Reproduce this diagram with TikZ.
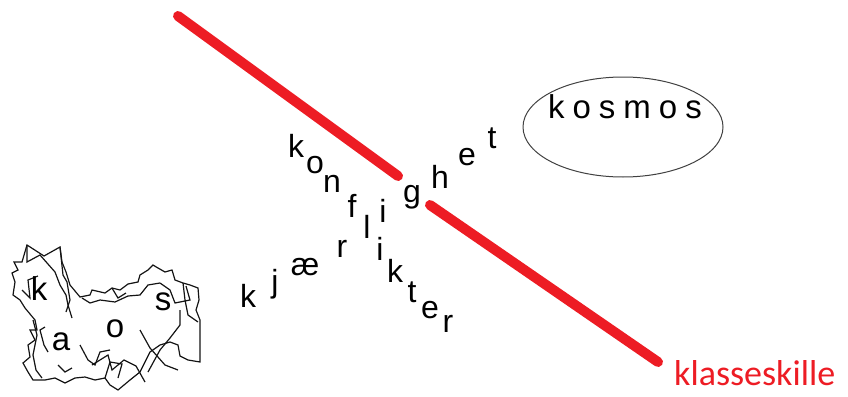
\documentclass[tikz,border=0pt]{standalone}
\usepackage{fontspec}
\setmainfont{Liberation Sans}
\newfontfamily\calfont{Carlito}
\definecolor{paintred}{RGB}{237,28,36}
\definecolor{scrib}{RGB}{20,20,20}
\begin{document}
\begin{tikzpicture}[x=1pt,y=-1pt,
  letter/.style={inner sep=0pt,anchor=base,font=\fontsize{32}{32}\selectfont},
  kaosletter/.style={inner sep=0pt,anchor=base,font=\fontsize{33}{33}\selectfont},
  redbar/.style={draw=paintred,line width=10pt,line cap=round},
  scribble/.style={draw=scrib,line width=1.2pt,line join=miter}]
\useasboundingbox (0,0) rectangle (848,396);
% red divider
\coordinate (r1a) at (178,16);
\coordinate (r1b) at (398,176);
\coordinate (r2a) at (430,205);
\coordinate (r2b) at (658,362);
\draw[redbar] (r1a) -- (r1b);
\draw[redbar] (r2a) -- (r2b);
\node[inner sep=0pt,anchor=base west,text=paintred,font=\calfont\fontsize{36}{36}\selectfont] (kl) at (674,385) {klasseskille};
% kosmos
\draw[draw=black!75,line width=1pt] (623,127) ellipse [x radius=100, y radius=50];
\node[inner sep=0pt,anchor=base,font=\fontsize{33}{33}\selectfont] (kosmos) at (625,118) {k\hspace{8pt}o\hspace{8pt}s\hspace{8pt}m\hspace{8pt}o\hspace{8pt}s};
% konflikter
\node[letter] (k1) at (296,157) {k};
\node[letter] (o1) at (315,173) {o};
\node[letter] (n1) at (332,192) {n};
\node[letter] (f1) at (352,217) {f};
\node[letter] (l1) at (367,238) {l};
\node[letter] (i1) at (380,260) {i};
\node[letter] (k2) at (395,282) {k};
\node[letter] (t1) at (412,302) {t};
\node[letter] (e1) at (430,318) {e};
\node[letter] (r1) at (448,332) {r};
% kjaerlighet
\node[letter] (k3) at (248,307) {k};
\node[letter] (j1) at (275,292) {j};
\node[letter] (ae) at (305,275) {æ};
\node[letter] (r2) at (342,257) {r};
\node[letter] (i2) at (383,222) {i};
\node[letter] (g1) at (412,202) {g};
\node[letter] (h1) at (440,188) {h};
\node[letter] (e2) at (467,165) {e};
\node[letter] (t2) at (492,148) {t};
% kaos scribble
\draw[scribble] (27,245) -- (44,256) -- (60,247) -- (62,262) -- (66,272) -- (70,285) -- (80,297) -- (90,295) -- (92,290) -- (105,293) -- (112,288) -- (120,290) -- (128,284) -- (138,282) -- (140,275) -- (148,270) -- (153,265) -- (158,268) -- (165,272) -- (172,270) -- (175,280) -- (183,283) -- (190,285) -- (198,288) -- (199,300) -- (196,310) -- (200,320) -- (200,340) -- (200,362) -- (188,360) -- (180,356) -- (178,345) -- (170,342) -- (160,345) -- (150,352) -- (145,362) -- (140,372) -- (130,380) -- (118,390) -- (110,385) -- (105,378) -- (95,380) -- (85,377) -- (75,378) -- (65,383) -- (55,378) -- (45,380) -- (33,380) -- (28,372) -- (23,363) -- (30,357) -- (28,345) -- (35,340) -- (30,330) -- (37,330) -- (35,320) -- (25,308) -- (20,300) -- (13,295) -- (15,282) -- (12,273) -- (18,270) -- (14,262) -- (22,262) -- cycle;
\draw[scribble] (27,245) -- (27,262) -- (40,255) -- (55,272) -- (60,285) -- (66,295) -- (68,305) -- (72,318);
\draw[scribble] (60,247) -- (63,275) -- (67,282) -- (70,300) -- (66,312);
\draw[scribble] (33,320) -- (37,335) -- (33,355) -- (36,370) -- (42,378);
\draw[scribble] (45,327) -- (40,330) -- (44,345) -- (48,352);
\draw[scribble] (80,345) -- (88,360) -- (95,365) -- (100,352) -- (110,350);
\draw[scribble] (82,298) -- (90,303) -- (100,300) -- (115,302) -- (128,296) -- (140,295) -- (148,285) -- (160,283);
\draw[scribble] (112,288) -- (118,298) -- (126,293);
\draw[scribble] (140,330) -- (150,348) -- (165,365) -- (178,370);
\draw[scribble] (148,372) -- (160,350) -- (170,338) -- (180,325) -- (180,310);
\draw[scribble] (92,365) -- (108,355) -- (112,370) -- (124,360) -- (136,366) -- (145,382);
\draw[scribble] (160,283) -- (170,290) -- (175,303) -- (190,300) -- (186,286);
\draw[scribble] (183,283) -- (185,300) -- (188,315) -- (198,322);
\draw[scribble] (22,290) -- (30,298) -- (28,280) -- (38,276);
\draw[scribble] (105,378) -- (110,362) -- (122,364) -- (118,378);
\draw[scribble] (58,365) -- (65,372) -- (72,368);
\node[kaosletter] (ka) at (39,300) {k};
\node[kaosletter] (kb) at (61,350) {a};
\node[kaosletter] (kc) at (115,337) {o};
\node[kaosletter] (kd) at (163,310) {s};
\end{tikzpicture}
\end{document}
